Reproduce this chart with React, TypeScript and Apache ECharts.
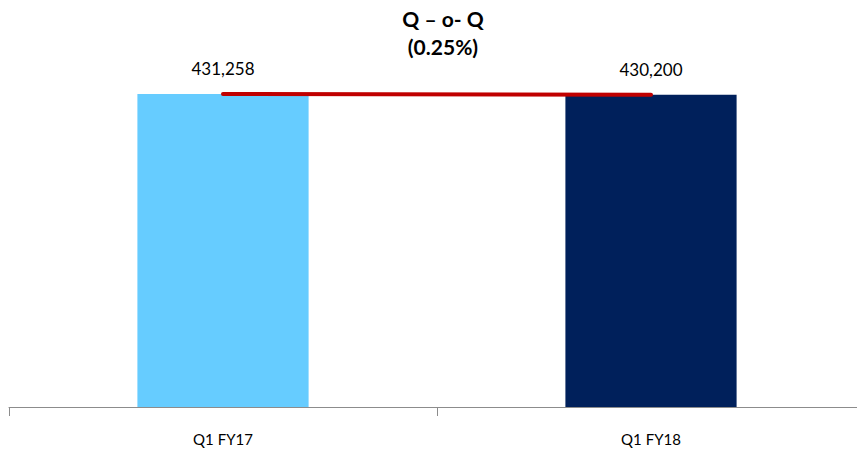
import React, { useEffect, useRef } from "react";
import * as echarts from "echarts";

const categories = ["Q1 FY17", "Q1 FY18"];
const values = [431258, 430200];
const barColors = ["#66CCFF", "#00205B"];
const titleLines = ["Q – o- Q", "(0.25%)"];

export default function App() {
  const ref = useRef<HTMLDivElement>(null);
  useEffect(() => {
    if (!ref.current) return;
    const chart = echarts.init(ref.current, null, { renderer: "svg" });
    chart.setOption({
      animation: false,
      backgroundColor: "#ffffff",
      title: {
        text: titleLines.join("\n"),
        top: -1,
        left: 438,
        textAlign: "center",
        textStyle: {
          fontFamily: "Lato",
          fontWeight: "bold",
          fontSize: 21,
          lineHeight: 28,
          color: "#000000",
        },
      },
      grid: { left: 9, right: 0, top: 44, bottom: 50, containLabel: false },
      xAxis: {
        type: "category",
        data: categories,
        axisLine: { lineStyle: { color: "#8c8c8c", width: 1 } },
        axisTick: { show: true, length: 9, lineStyle: { color: "#8c8c8c" } },
        axisLabel: {
          margin: 24,
          fontFamily: "Lato",
          fontSize: 15,
          color: "#000000",
        },
      },
      yAxis: {
        type: "value",
        min: 0,
        max: 500000,
        show: false,
        splitLine: { show: false },
      },
      series: [
        {
          type: "bar",
          barWidth: "40%",
          data: values.map((v, i) => ({ value: v, itemStyle: { color: barColors[i] } })),
          label: {
            show: true,
            position: "top",
            distance: 17,
            fontFamily: "Lato",
            fontSize: 17,
            color: "#000000",
            formatter: (p: any) => p.value.toLocaleString("en-US"),
          },
        },
        {
          type: "line",
          data: values,
          symbol: "none",
          lineStyle: { color: "#C00000", width: 4, cap: "round" },
          z: 5,
        },
      ],
    });
    return () => chart.dispose();
  }, []);
  return (
    <div style={{ position: "fixed", left: 0, top: 0, width: 857, height: 457, overflow: "hidden" }}>
      <div ref={ref} style={{ width: 865, height: 457 }} />
    </div>
  );
}
